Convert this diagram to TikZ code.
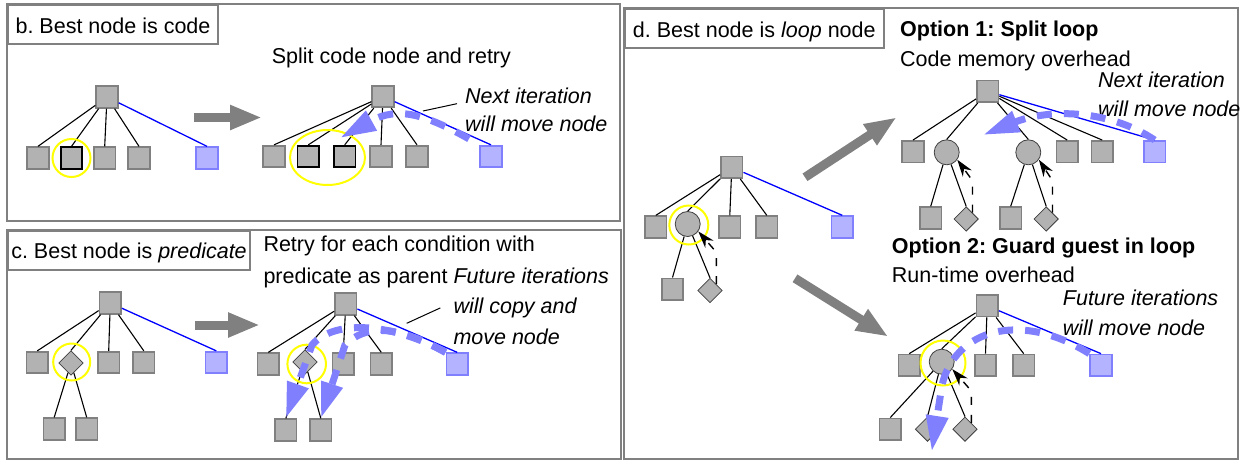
\documentclass[tikz,border=0pt]{standalone}
\usepackage{fontspec}
\setmainfont{Liberation Sans}
\usepackage{tikz}
\usetikzlibrary{arrows.meta, shapes.geometric}
\definecolor{framegray}{RGB}{128,128,128}
\definecolor{nodegray}{RGB}{178,178,178}
\definecolor{blueline}{RGB}{0,0,255}
\definecolor{bluefill}{RGB}{179,179,255}
\definecolor{blueedge}{RGB}{128,128,255}
\definecolor{ringyellow}{RGB}{255,255,0}
\newcommand{\txtsize}{\fontsize{21.5}{29.5}\selectfont}
\frenchspacing

\begin{document}
\begin{tikzpicture}[x=1pt, y=-1pt]
\tikzset{panel/.style={draw=framegray, line width=2pt},
  titlebox/.style={draw=framegray, line width=2pt, fill=white, anchor=north west, minimum height=39pt, inner sep=0pt, text height=17.6pt, text depth=0pt, font=\txtsize},
  txt/.style={anchor=base west, inner sep=0pt, align=left, font=\txtsize},
  sq/.style={rectangle, draw=framegray, fill=nodegray, line width=1.8pt, minimum size=21.5pt, inner sep=0pt},
  hlsq/.style={sq, draw=black},
  farsq/.style={sq, draw=blueedge, fill=bluefill},
  pred/.style={diamond, draw=black!75, fill=nodegray, line width=0.8pt, minimum size=24.5pt, inner sep=0pt},
  loopnode/.style={circle, draw=black!75, fill=nodegray, line width=0.8pt, minimum size=25pt, inner sep=0pt},
  ring/.style={circle, draw=ringyellow, line width=2pt, minimum size=38pt, inner sep=0pt},
  link/.style={black, line width=1.1pt},
  bedge/.style={blueline, line width=1.3pt},
  leader/.style={black, line width=1pt},
  bigarrow/.style={framegray, line width=9pt, -{Triangle[length=32pt, width=23pt]}},
  moveflow/.style={blueedge, line width=7pt, dash pattern=on 15pt off 12pt, -{Triangle[length=36pt, width=21pt]}},
  backflow/.style={black, line width=1.4pt, dash pattern=on 8pt off 10pt, -{Stealth[length=17pt, width=11pt]}}}
\useasboundingbox (0,0) rectangle (1242,461);

% panels
\draw[panel] (7,4) rectangle (620,221);
\draw[panel] (7,229.5) rectangle (621,459);
\draw[panel] (623.5,8) rectangle (1238,459);
\node[titlebox, minimum width=210pt] (Tb) at (7,4) {b. Best node is code};
\node[titlebox, minimum width=242pt] (Tc) at (7,229.5) {c. Best node is \textit{predicate}};
\node[titlebox, minimum width=259.5pt] (Td) at (623.5,8) {d. Best node is \textit{loop} node};

% b: before
\node[sq] (B) at (107,97) {};
\node[sq] (B1) at (38,158) {};
\node[hlsq] (B2) at (71.5,158) {};
\node[sq] (B3) at (104.7,158) {};
\node[sq] (B4) at (139,158) {};
\node[farsq] (BX) at (207,158) {};
\draw[link] (B) -- (B1.north) (B) -- (B2.north) (B) -- (B3.north) (B) -- (B4.north);
\draw[bedge] (B) -- (BX.north);
\node[ring] (B2r) at (B2) {};
\coordinate (bA0) at (194,117.5);
\coordinate (bA1) at (262,117.5);
\draw[bigarrow] (bA0) -- (bA1);

% b: after
\node[txt] (Sb) at (271.7,63.3) {Split code node and retry};
\node[sq] (S) at (383,96.5) {};
\node[sq] (S1) at (274,156.5) {};
\node[hlsq] (S2) at (308.3,156.5) {};
\node[hlsq] (S3) at (344.7,156.5) {};
\node[sq] (S4) at (381,156.5) {};
\node[sq] (S5) at (417,156.5) {};
\node[farsq] (SX) at (491,156.5) {};
\draw[link] (S) -- (S1.north) (S) -- (S2.north) (S) -- (S3.north) (S) -- (S4.north) (S) -- (S5.north);
\draw[bedge] (S) -- (SX.north);
\node[ring, ellipse, minimum width=75pt, minimum height=55pt] (S23r) at (327.5,157.5) {};
\node[txt, font=\fontsize{21.5}{28.7}\selectfont\itshape] (Nb) at (465,131.7) {Next iteration\\will move node};
\coordinate (Mb) at (340,138);
\coordinate (Nbx) at (423,111);
\draw[moveflow, dash phase=15pt] (SX.north west) .. controls (425,113) and (398,106) .. (Mb);
\draw[leader] ([shift={(-8,-6)}]Nb.west) -- (Nbx);

% c: before
\node[sq] (C) at (110.3,303) {};
\node[sq] (C1) at (37.3,362.5) {};
\node[pred] (C2) at (71,363) {};
\node[sq] (C3) at (108.7,362.5) {};
\node[sq] (C4) at (143.8,362.5) {};
\node[farsq] (CX) at (216.3,362.5) {};
\node[sq] (C21) at (54.2,429) {};
\node[sq] (C22) at (86.7,429) {};
\draw[link] (C) -- (C1.north) (C) -- (C2.north) (C) -- (C3.north) (C) -- (C4.north);
\draw[link] (C2) -- (C21.north) (C2) -- (C22.north);
\draw[bedge] (C) -- (CX.north);
\node[ring, minimum size=37pt] (C2r) at (71.7,362) {};
\coordinate (cA0) at (195,325);
\coordinate (cA1) at (260,325);
\draw[bigarrow] (cA0) -- (cA1);

% c: after
\node[txt, font=\fontsize{21.5}{31.6}\selectfont] (Rc) at (263.3,283.3) {Retry for each condition with\\predicate as parent};
\node[txt, font=\fontsize{21.5}{30.4}\selectfont\itshape] (Fc) at (453.3,344) {Future iterations\\will copy and\\move node};
\node[sq] (P) at (345.8,304) {};
\node[sq] (P1) at (268.3,364) {};
\node[pred] (P2) at (305,362) {};
\node[sq] (P3) at (343.3,364) {};
\node[sq] (P4) at (381.3,364) {};
\node[farsq] (PX) at (457.2,364) {};
\node[sq] (P21) at (285.8,430) {};
\node[sq] (P22) at (320.8,430) {};
\draw[link] (P) -- (P1.north) (P) -- (P2.north) (P) -- (P3.north) (P) -- (P4.north);
\draw[link] (P2) -- (P21.north) (P2) -- (P22.north);
\draw[bedge] (P) -- (PX.north);
\node[ring, minimum size=38.6pt] (P2r) at (306.7,364) {};
\draw[moveflow] (PX.north west) .. controls (395,324) and (335,318) .. (312,345) -- (P21.north);
\draw[moveflow] (PX.north west) .. controls (395,324) and (365,325) .. (345,345) -- (P22.north);
\coordinate (Fcx) at (406.7,323.3);
\draw[leader] ([shift={(-13,2)}]Fc.west) -- (Fcx);

% d: before
\node[sq] (D) at (731.8,167.3) {};
\node[sq] (D1) at (655.8,227) {};
\node[loopnode] (D2) at (687.7,224) {};
\node[sq] (D3) at (729.8,227) {};
\node[sq] (D4) at (766.8,227) {};
\node[farsq] (DX) at (842.3,227) {};
\node[sq] (D21) at (672.5,289.2) {};
\node[pred] (D22) at (710,290.5) {};
\draw[link] (D) -- (D1.north) (D) -- (D2.north) (D) -- (D3.north) (D) -- (D4.north);
\draw[link] (D2) -- (D21.north) (D2) -- (D22.north);
\draw[bedge] (D) -- (DX.north);
\node[ring, minimum size=39pt] (D2r) at (688.8,225) {};
\draw[backflow] (D22.north east) -- ++(0,-32) -- (D2.-35);
\coordinate (dA0) at (805,177.3);
\coordinate (dA1) at (896.7,117.3);
\coordinate (dB0) at (795,278.3);
\coordinate (dB1) at (888.3,336.7);
\draw[bigarrow] (dA0) -- (dA1);
\draw[bigarrow] (dB0) -- (dB1);

% d: option 1
\node[txt, font=\fontsize{21.5}{30.4}\selectfont] (O1) at (900,66.7) {\textbf{Option 1: Split loop}\\Code memory overhead};
\node[txt, font=\txtsize\itshape] (N1) at (1098,116.7) {Next iteration\\will move node};
\node[sq] (G) at (987.7,91.3) {};
\node[sq] (G1) at (913,151.7) {};
\node[loopnode] (G2) at (946.7,152.3) {};
\node[loopnode] (G3) at (1028.3,152.3) {};
\node[sq] (G4) at (1067.2,151.7) {};
\node[sq] (G5) at (1102.2,151.7) {};
\node[farsq] (GX) at (1154.7,151.7) {};
\node[sq] (G21) at (930.7,218) {};
\node[pred] (G22) at (966.2,219) {};
\node[sq] (G31) at (1010.7,218) {};
\node[pred] (G32) at (1046.2,219) {};
\draw[link] (G) -- (G1.north) (G) -- (G2.north) (G) -- (G3.north) (G) -- (G4.north) (G) -- (G5.north);
\draw[link] (G2) -- (G21.north) (G2) -- (G22.north) (G3) -- (G31.north) (G3) -- (G32.north);
\draw[bedge] (G) -- (GX.north);
\draw[backflow] (G22.north east) -- ++(0,-32) -- (G2.-35);
\draw[backflow] (G32.north east) -- ++(0,-32) -- (G3.-35);
\coordinate (M1) at (983,135);
\draw[moveflow] (GX.north) .. controls (1110,110) and (1050,108) .. (M1);

% d: option 2
\node[txt] (O2) at (891.7,282.7) {\textbf{Option 2: Guard guest in loop}\\Run-time overhead};
\node[txt, font=\txtsize\itshape] (N2) at (1062.7,335) {Future iterations\\will move node};
\node[sq] (H) at (987.2,305.8) {};
\node[sq] (H1) at (909.2,365.3) {};
\node[loopnode] (H2) at (941.7,361.7) {};
\node[sq] (H3) at (985.5,365.3) {};
\node[sq] (H4) at (1023.7,365.3) {};
\node[farsq] (HX) at (1101,365.3) {};
\node[sq] (H21) at (890.3,429.2) {};
\node[pred] (H22) at (927.5,429.2) {};
\node[pred] (H23) at (965,429.2) {};
\draw[link] (H) -- (H1.north) (H) -- (H2.north) (H) -- (H3.north) (H) -- (H4.north);
\draw[link] (H2) -- (H21.north) (H2) -- (H22.north) (H2) -- (H23.north);
\draw[bedge] (H) -- (HX.north);
\node[ring, minimum size=45pt] (H2r) at (943,363) {};
\draw[backflow] (H23.north east) -- ++(0,-32) -- (H2.-35);
\coordinate (M2) at (931.7,451.7);
\draw[moveflow] (HX.north west) .. controls (1020,310) and (955,330) .. (942,385) -- (M2);

\end{tikzpicture}
\end{document}
